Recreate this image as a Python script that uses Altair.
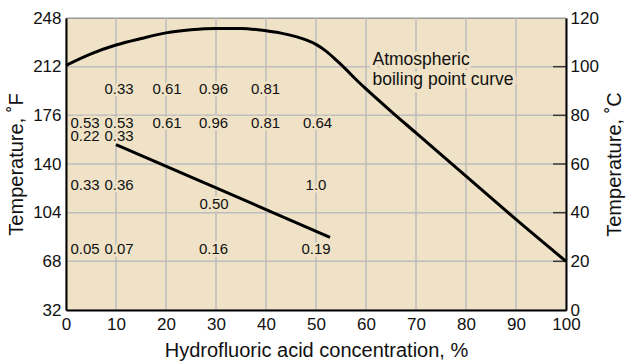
import altair as alt
import pandas as pd

FONT = "Liberation Sans"
BG = "#efe2c6"
GRID = "#bdbdbd"

# Atmospheric boiling point of aqueous HF: concentration (%) vs temperature (°F)
bp_conc = [0, 5, 10, 15, 20, 25, 30, 35, 40, 43, 46, 48, 50, 52, 54, 56, 58, 60,
           65, 70, 80, 90, 100]
bp_temp_f = [213, 221.5, 228, 232.8, 237, 239.3, 240.3, 240.3, 238.5, 236.8, 234.2,
             231.8, 228.5, 223.5, 217, 210, 202.5, 195.5, 179, 163, 131, 99, 68]

# Straight boundary line inside the chart
line_conc = [10, 52.8]
line_temp_f = [154.4, 85.8]

# Rate values written on the chart
rate_text = ["0.33", "0.61", "0.96", "0.81",
             "0.53", "0.53", "0.61", "0.96", "0.81", "0.64",
             "0.22", "0.33",
             "0.33", "0.36", "1.0",
             "0.50",
             "0.05", "0.07", "0.16", "0.19"]
rate_conc = [10.6, 20.2, 29.5, 39.9,
             3.8, 10.6, 20.2, 29.5, 39.9, 50.3,
             3.8, 10.6,
             3.8, 10.6, 50.0,
             29.6,
             3.8, 10.6, 29.5, 50.0]
rate_temp_f = [195.8, 195.8, 195.8, 195.8,
               170.1, 170.1, 170.1, 170.1, 170.1, 170.1,
               160.9, 160.9,
               124.2, 124.2, 124.2,
               110.5,
               76.8, 76.8, 76.8, 76.8]

note_text = ["Atmospheric", "boiling point curve"]
note_conc = [61.3, 61.3]
note_temp_f = [217.0, 201.8]

f_ticks = [32, 68, 104, 140, 176, 212, 248]
c_ticks = [0, 20, 40, 60, 80, 100, 120]
conc_ticks = list(range(0, 101, 10))

bp_df = pd.DataFrame({"conc": bp_conc, "f": bp_temp_f})
line_df = pd.DataFrame({"conc": line_conc, "f": line_temp_f})
rate_df = pd.DataFrame({"conc": rate_conc, "f": rate_temp_f, "label": rate_text})
note_df = pd.DataFrame({"conc": note_conc, "f": note_temp_f, "label": note_text})
fgrid_df = pd.DataFrame({"f": f_ticks})
xgrid_df = pd.DataFrame({"conc": conc_ticks})
c_df = pd.DataFrame({"c": c_ticks[1:-1]})

x_scale = alt.Scale(domain=[0, 100], nice=False, zero=False)
f_scale = alt.Scale(domain=[32, 248], nice=False, zero=False)
c_scale = alt.Scale(domain=[0, 120], nice=False, zero=False)

x_enc = alt.X(
    "conc:Q", scale=x_scale,
    axis=alt.Axis(values=conc_ticks, title="Hydrofluoric acid concentration, %",
                  labelPadding=6, titlePadding=8, format="d", zindex=2),
)
y_enc = alt.Y(
    "f:Q", scale=f_scale,
    axis=alt.Axis(values=f_ticks, title="Temperature, ˚F", labelPadding=5,
                  titlePadding=6, orient="left", format="d", zindex=2),
)

base_x = alt.X("conc:Q", scale=x_scale)
base_y = alt.Y("f:Q", scale=f_scale)

# Grid lines
fgrid = alt.Chart(fgrid_df).mark_rule(color=GRID, strokeWidth=1.5).encode(y=base_y)
xgrid = alt.Chart(xgrid_df).mark_rule(color=GRID, strokeWidth=1.5).encode(x=base_x)

boil = alt.Chart(bp_df).mark_line(
    color="black", strokeWidth=3, interpolate="monotone"
).encode(x=x_enc, y=y_enc)

boundary = alt.Chart(line_df).mark_line(color="black", strokeWidth=3).encode(
    x=base_x, y=base_y
)

# Background-coloured halo behind each label so grid lines stop short of the text
rate_halo = alt.Chart(rate_df).mark_text(
    font=FONT, fontSize=15, fill=BG, stroke=BG, strokeWidth=5, strokeJoin="round",
    baseline="middle", align="center", clip=True,
).encode(x=base_x, y=base_y, text="label:N")

rate_labels = alt.Chart(rate_df).mark_text(
    font=FONT, fontSize=15, color="#111111", baseline="middle", align="center",
).encode(x=base_x, y=base_y, text="label:N")

note_halo = alt.Chart(note_df).mark_text(
    font=FONT, fontSize=17.5, fill=BG, stroke=BG, strokeWidth=7, strokeJoin="round",
    baseline="middle", align="left", clip=True,
).encode(x=base_x, y=base_y, text="label:N")

note_labels = alt.Chart(note_df).mark_text(
    font=FONT, fontSize=17.5, color="#111111", baseline="middle", align="left",
).encode(x=base_x, y=base_y, text="label:N")

f_layers = alt.layer(fgrid, xgrid, rate_halo, note_halo, boil, boundary,
                     rate_labels, note_labels)

# Celsius axis on the right, with short ticks pointing into the plot
c_axis = alt.Chart(c_df).mark_tick(
    orient="horizontal", size=26, thickness=1.5, color="black", clip=True
).encode(
    x=alt.datum(100),
    y=alt.Y("c:Q", scale=c_scale,
            axis=alt.Axis(values=c_ticks, title="Temperature, ˚C", orient="right",
                          labelPadding=4, titlePadding=6, titleAngle=270,
                          titleBaseline="top", format="d", zindex=2)),
)

chart = (
    alt.layer(f_layers, c_axis)
    .resolve_scale(y="independent")
    .properties(
        width=500, height=292,
        autosize=alt.AutoSizeParams(type="none"),
        padding={"left": 66, "top": 18, "right": 60, "bottom": 52},
        background="white",
    )
    .configure_view(fill=BG, stroke="#333333", strokeWidth=1)
    .configure_axis(
        grid=False, ticks=False, labelFlush=False,
        labelFont=FONT, labelFontSize=17, labelColor="#111111",
        titleFont=FONT, titleFontSize=20, titleFontWeight="normal", titleColor="#111111",
        domainColor="black", domainWidth=2,
    )
)

chart.save("out.html", embed_options={"renderer": "svg", "actions": False})
